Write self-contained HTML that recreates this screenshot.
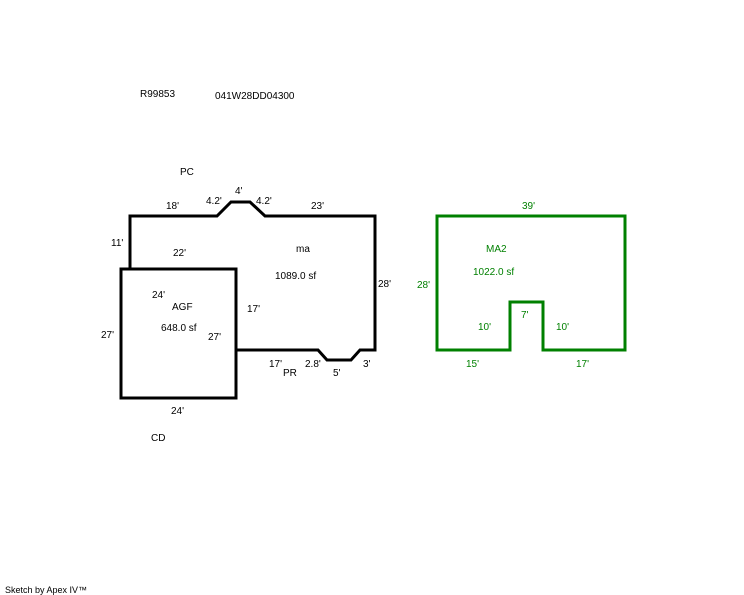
<html><body style="margin:0;background:#fff;width:744px;height:595px;overflow:hidden">
<svg width="744" height="595" xmlns="http://www.w3.org/2000/svg" style="font-family:'Liberation Sans',sans-serif;font-size:10px">
<g fill="none" stroke="#000" stroke-width="3">
<polyline points="130,269 130,216 217,216 231,202 250,202 265,216 375,216 375,350 360,350 351,360 327,360 318,350 236,350"/>
<rect x="121" y="269" width="115" height="129"/>
</g>
<polygon fill="none" stroke="#008000" stroke-width="3" points="437,216 625,216 625,350 543,350 543,302 510,302 510,350 437,350"/>
<g fill="#000">
<text x="140" y="97">R99853</text>
<text x="215" y="99">041W28DD04300</text>
<text x="180" y="175">PC</text>
<text x="166" y="209">18'</text>
<text x="206" y="204">4.2'</text>
<text x="235" y="194">4'</text>
<text x="256" y="204">4.2'</text>
<text x="311" y="209">23'</text>
<text x="111" y="246">11'</text>
<text x="173" y="256">22'</text>
<text x="296" y="252">ma</text>
<text x="275" y="279">1089.0 sf</text>
<text x="378" y="287">28'</text>
<text x="152" y="298">24'</text>
<text x="172" y="310">AGF</text>
<text x="161" y="331">648.0 sf</text>
<text x="247" y="312">17'</text>
<text x="208" y="340">27'</text>
<text x="101" y="338">27'</text>
<text x="269" y="367">17'</text>
<text x="283" y="376">PR</text>
<text x="305" y="367">2.8'</text>
<text x="333" y="376">5'</text>
<text x="363" y="367">3'</text>
<text x="171" y="414">24'</text>
<text x="151" y="441">CD</text>
<text x="5" y="593" font-size="9">Sketch by Apex IV™</text>
</g>
<g fill="#008000">
<text x="522" y="209">39'</text>
<text x="486" y="252">MA2</text>
<text x="473" y="275">1022.0 sf</text>
<text x="417" y="288">28'</text>
<text x="521" y="318">7'</text>
<text x="478" y="330">10'</text>
<text x="556" y="330">10'</text>
<text x="466" y="367">15'</text>
<text x="576" y="367">17'</text>
</g>
</svg>
</body></html>
